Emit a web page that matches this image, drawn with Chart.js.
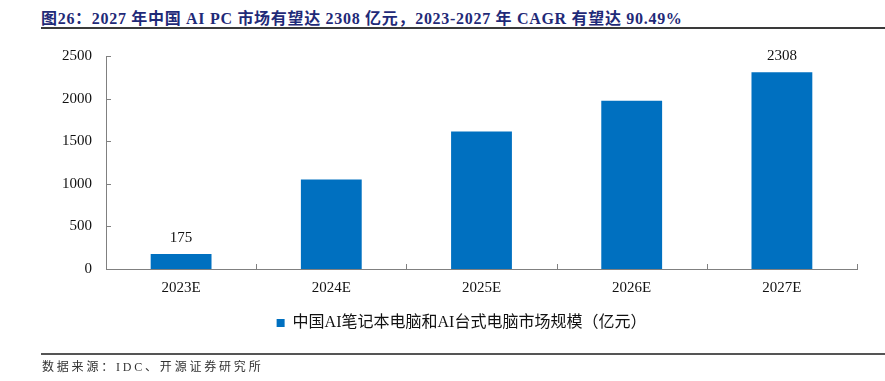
<!DOCTYPE html>
<html>
<head>
<meta charset="utf-8">
<script src="https://cdn.jsdelivr.net/npm/chart.js@4/dist/chart.umd.min.js"></script>
<style>
  html, body { margin: 0; padding: 0; background: #fff; }
  #wrap { position: relative; width: 885px; height: 381px; overflow: hidden; }
  #title { position: absolute; left: 41px; top: 5px; font: bold 16px "Liberation Serif", "Noto Sans CJK SC", serif; letter-spacing: 0.7px; color: #1f2a78; white-space: nowrap; }
  #tline { position: absolute; left: 41px; right: 0; top: 27px; height: 1.5px; background: #3a3a3a; }
  #sline { position: absolute; left: 41px; right: 0; top: 353px; height: 1.5px; background: #555; }
  #source { position: absolute; left: 42px; top: 357px; font: 12px "Liberation Serif", "Noto Sans CJK SC", serif; letter-spacing: 2.8px; color: #333; white-space: nowrap; }
  canvas { position: absolute; left: 0; top: 0; }
</style>
</head>
<body>
<div id="wrap">
  <div id="title">图26：2027 年中国 AI PC 市场有望达 2308 亿元，2023-2027 年 CAGR 有望达 90.49%</div>
  <div id="tline"></div>
  <canvas id="c" width="885" height="381"></canvas>
  <div id="sline"></div>
  <div id="source">数据来源：IDC、开源证券研究所</div>
</div>
<script>
const categories = ["2023E", "2024E", "2025E", "2026E", "2027E"];
const marketSize = [175, 1050, 1615, 1975, 2308];
const labeledIndexes = [0, 4];
const seriesName = "中国AI笔记本电脑和AI台式电脑市场规模（亿元）";
const yTicks = [0, 500, 1000, 1500, 2000, 2500];

const serif = '"Liberation Serif", "Times New Roman", serif';
const axisColor = '#808080';

const innerTicks = {
  id: 'innerTicks',
  afterDatasetsDraw(chart) {
    const ctx = chart.ctx, x = chart.scales.x, y = chart.scales.y;
    ctx.save();
    ctx.strokeStyle = axisColor;
    ctx.lineWidth = 1;
    ctx.beginPath();
    yTicks.forEach(v => {
      const py = Math.round(y.getPixelForValue(v)) + 0.5;
      ctx.moveTo(x.left, py); ctx.lineTo(x.left + 5, py);
    });
    const n = categories.length;
    for (let i = 1; i <= n; i++) {
      const px = Math.round(x.getPixelForValue(i - 0.5)) + 0.5;
      ctx.moveTo(px, y.bottom); ctx.lineTo(px, y.bottom - 5);
    }
    ctx.stroke();
    ctx.restore();
  }
};

const valueLabels = {
  id: 'valueLabels',
  afterDatasetsDraw(chart) {
    const ctx = chart.ctx;
    const meta = chart.getDatasetMeta(0);
    ctx.save();
    ctx.font = '15px ' + serif;
    ctx.fillStyle = '#111';
    ctx.textAlign = 'center';
    ctx.textBaseline = 'middle';
    labeledIndexes.forEach(i => {
      const bar = meta.data[i];
      ctx.fillText(String(marketSize[i]), bar.x, bar.y - 16);
    });
    ctx.restore();
  }
};

const legendShift = {
  id: 'legendShift',
  afterLayout(chart) {
    if (chart.legend) { chart.legend.left += 13; chart.legend.right += 13; }
  }
};

new Chart(document.getElementById('c'), {
  type: 'bar',
  data: {
    labels: categories,
    datasets: [{
      label: seriesName,
      data: marketSize,
      backgroundColor: '#0070C0',
      borderWidth: 0,
      categoryPercentage: 1.0,
      barPercentage: 0.405
    }]
  },
  options: {
    responsive: false,
    animation: false,
    events: [],
    layout: { padding: { left: 40, right: 28, top: 56, bottom: 40 } },
    scales: {
      x: {
        grid: { display: false, drawTicks: false },
        border: { display: true, color: axisColor, width: 1 },
        ticks: { color: '#111', font: { family: serif, size: 15 }, padding: 10 },
        afterFit(s) { s.height = 36; }
      },
      y: {
        min: 0, max: 2500,
        afterBuildTicks(s) { s.ticks = yTicks.map(v => ({ value: v })); },
        grid: { display: false, drawTicks: false },
        border: { display: true, color: axisColor, width: 1 },
        ticks: { color: '#111', font: { family: serif, size: 15 }, padding: 14, callback: v => String(v) },
        afterFit(s) { s.width = 66; }
      }
    },
    plugins: {
      legend: {
        position: 'bottom',
        labels: {
          boxWidth: 8, boxHeight: 8, padding: 10,
          color: '#111',
          font: { family: '"Liberation Serif", "Noto Sans CJK SC", serif', size: 16 }
        }
      },
      tooltip: { enabled: false }
    }
  },
  plugins: [innerTicks, valueLabels, legendShift]
});
</script>
</body>
</html>
